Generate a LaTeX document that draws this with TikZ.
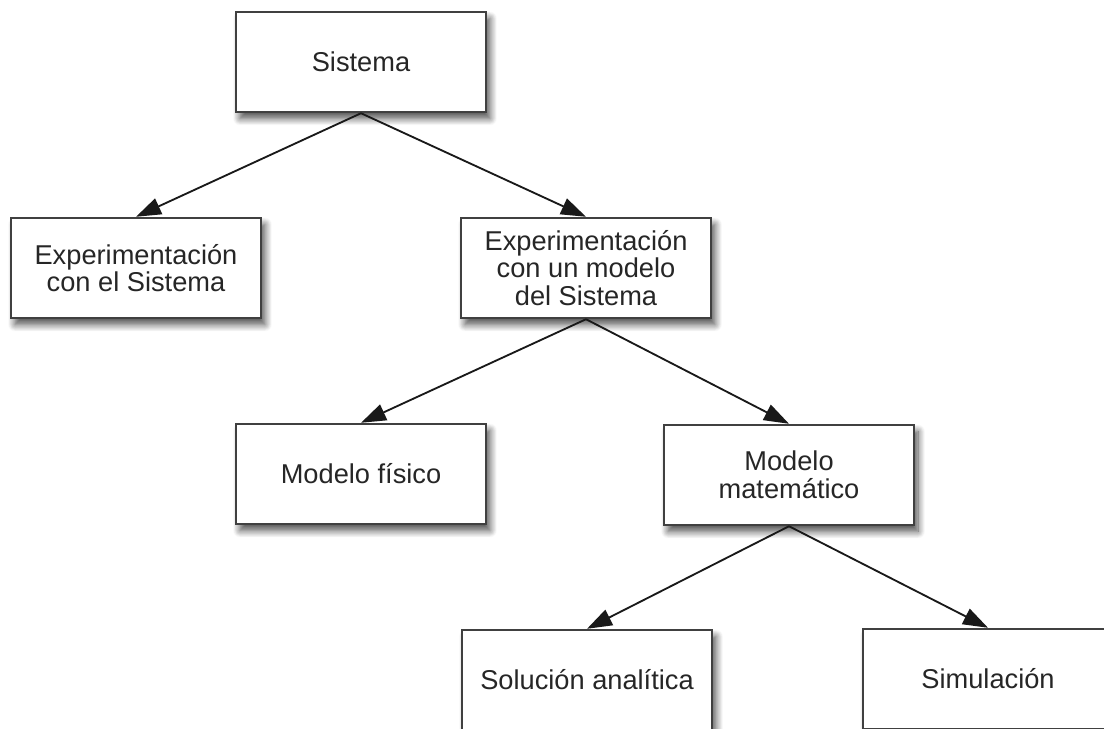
\documentclass[tikz,border=0pt]{standalone}
\usepackage{fontspec}
\setmainfont{Liberation Sans}
\usetikzlibrary{arrows.meta,shadows.blur}

\tikzset{
    modelbox/.style={draw=black!75, line width=1.4pt, fill=white,
        minimum width=5cm, minimum height=2cm, align=center,
        text=black!85, font=\fontsize{15.5}{15.8}\selectfont,
        blur shadow={shadow xshift=0.08cm, shadow yshift=-0.13cm,
            shadow blur radius=0.14cm, shadow blur steps=10, shadow opacity=70}},
    treearrow/.style={line width=1.05pt, draw=black!90,
        -{Triangle[length=0.5cm,width=0.34cm]}}
}

\begin{document}
\begin{tikzpicture}[x=0.02cm, y=-0.02cm]
    \useasboundingbox (0, 0) rectangle (1104, 729);

    \node[modelbox] (sistema) at (361, 62) {Sistema};
    \node[modelbox] (expsistema) at (136, 268) {Experimentación\\con el Sistema};
    \node[modelbox] (expmodelo) at (586, 268) {Experimentación\\con un modelo\\del Sistema};
    \node[modelbox] (fisico) at (361, 474) {Modelo físico};
    \node[modelbox] (matematico) at (789, 475) {Modelo\\matemático};
    \node[modelbox] (analitica) at (587, 680) {Solución analítica};
    \node[modelbox] (simulacion) at (988, 679) {Simulación};

    \draw[treearrow] (sistema.south) -- (expsistema.north);
    \draw[treearrow] (sistema.south) -- (expmodelo.north);
    \draw[treearrow] (expmodelo.south) -- (fisico.north);
    \draw[treearrow] (expmodelo.south) -- (matematico.north);
    \draw[treearrow] (matematico.south) -- (analitica.north);
    \draw[treearrow] (matematico.south) -- (simulacion.north);
\end{tikzpicture}
\end{document}
